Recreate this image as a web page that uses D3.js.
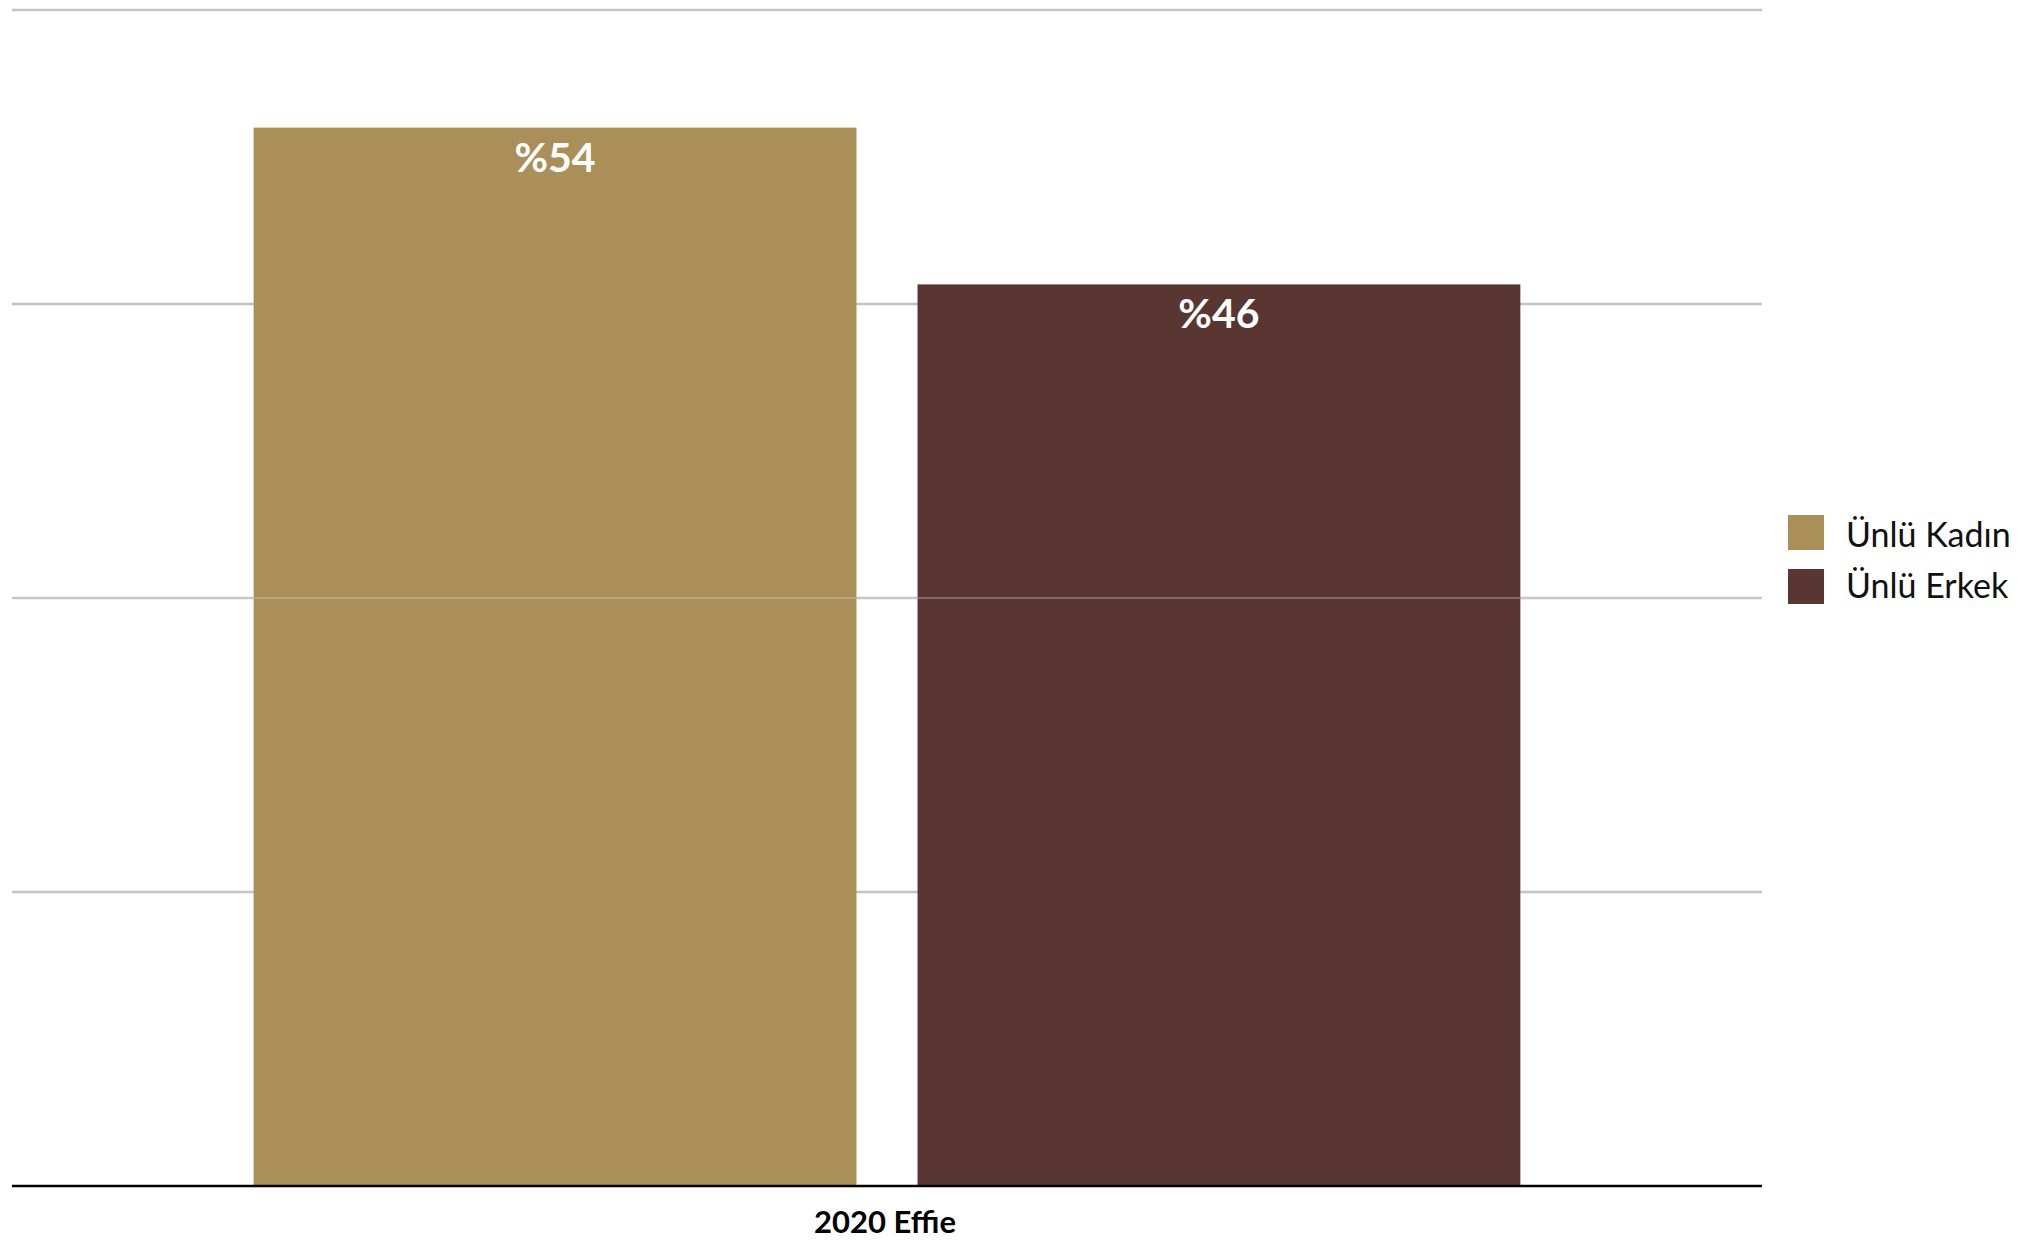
<!DOCTYPE html>
<html>
<head>
<meta charset="utf-8">
<script src="https://cdn.jsdelivr.net/npm/d3@7"></script>
<style>
  html, body { margin: 0; padding: 0; background: #fff; }
  svg { display: block; }
</style>
</head>
<body>
<svg id="chart" width="2018" height="1240"></svg>
<script>
const categories = ["2020 Effie"];
const seriesNames = ["Ünlü Kadın", "Ünlü Erkek"];
const seriesValues = [54, 46];
const seriesColors = ["#AA9058", "#5A3633"];
const valueLabels = ["%54", "%46"];
const yTicks = [0, 15, 30, 45, 60];

(function () {
const svg = d3.select("#chart");
const font = "Lato, 'Noto Sans', sans-serif";

const plotLeft = 12, plotRight = 1762, plotTop = 10, plotBottom = 1186;

const y = d3.scaleLinear().domain([0, 60]).range([plotBottom, plotTop]);
const x0 = d3.scaleBand().domain(categories).range([plotLeft, plotRight]).padding(0);
const x1 = d3.scaleBand().domain(seriesNames).range([0, x0.bandwidth()])
  .paddingInner(0.092).paddingOuter(0.364);

// gridlines
svg.append("g").selectAll("line")
  .data(yTicks.filter(t => t > 0))
  .join("line")
  .attr("x1", plotLeft).attr("x2", plotRight)
  .attr("y1", d => y(d)).attr("y2", d => y(d))
  .attr("stroke", "#c4c4c4").attr("stroke-width", 2.5);

const data = seriesNames.map((s, i) => ({ cat: categories[0], s, v: seriesValues[i], c: seriesColors[i], label: valueLabels[i] }));

const g = svg.append("g");
g.selectAll("rect")
  .data(data)
  .join("rect")
  .attr("x", d => x0(d.cat) + x1(d.s))
  .attr("y", d => y(d.v))
  .attr("width", x1.bandwidth())
  .attr("height", d => y(0) - y(d.v))
  .attr("fill", d => d.c);

// mid gridline visible over bars
svg.append("line")
  .attr("x1", plotLeft).attr("x2", plotRight)
  .attr("y1", y(30)).attr("y2", y(30))
  .attr("stroke", "rgba(205,205,205,0.7)").attr("stroke-width", 1.2);

// value labels
g.selectAll("text")
  .data(data)
  .join("text")
  .attr("x", d => x0(d.cat) + x1(d.s) + x1.bandwidth() / 2)
  .attr("y", d => y(d.v) + 44)
  .attr("text-anchor", "middle")
  .attr("fill", "#ffffff")
  .attr("font-family", font)
  .attr("font-weight", 700)
  .attr("font-size", 41)
  .text(d => d.label);

// baseline
svg.append("line")
  .attr("x1", plotLeft).attr("x2", plotRight)
  .attr("y1", y(0)).attr("y2", y(0))
  .attr("stroke", "#000").attr("stroke-width", 2.5);

// x axis label
svg.append("g").selectAll("text")
  .data(categories)
  .join("text")
  .attr("x", d => x0(d) + x0.bandwidth() / 2 - 2)
  .attr("y", 1233)
  .attr("text-anchor", "middle")
  .attr("fill", "#000")
  .attr("font-family", font)
  .attr("font-weight", 700)
  .attr("font-size", 31)
  .text(d => d);

// legend
const legend = svg.append("g").attr("transform", "translate(1788,515)");
const items = legend.selectAll("g")
  .data(seriesNames)
  .join("g")
  .attr("transform", (d, i) => `translate(0,${i * 54})`);
items.append("rect")
  .attr("width", 36).attr("height", 35)
  .attr("fill", (d, i) => seriesColors[i]);
items.append("text")
  .attr("x", 58).attr("y", (d, i) => 32 - 3 * i)
  .attr("fill", "#111")
  .attr("font-family", font)
  .attr("font-size", 34)
  .text(d => d);
})();
</script>
</body>
</html>
